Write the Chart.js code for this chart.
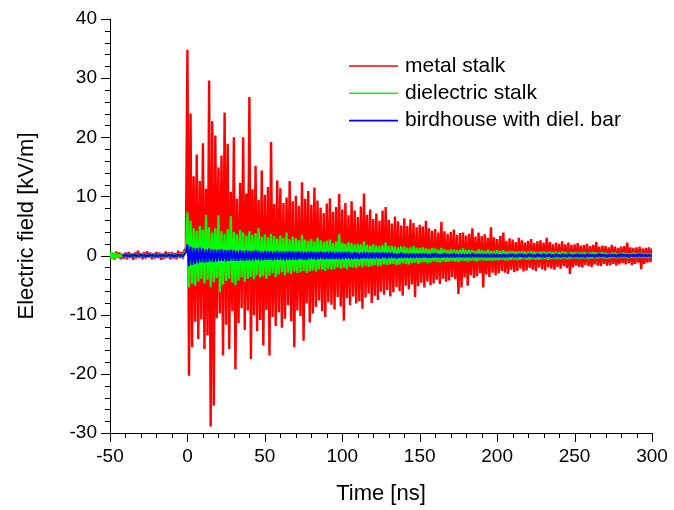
<!DOCTYPE html>
<html>
<head>
<meta charset="utf-8">
<script src="https://cdn.jsdelivr.net/npm/chart.js@4.4.1/dist/chart.umd.min.js"></script>
<style>
  html, body { margin: 0; padding: 0; background: #fff; }
  canvas { display: block; }
</style>
</head>
<body>
<canvas id="field" width="674" height="510"></canvas>
<script>
// Field records, one sample per nanosecond, starting at each series' start time (ns), values in kV/m.
const sampleStep = 1;

const metalStart = -50;
const metalStalk = [
  0.6,-0.5,0.4,-0.7,0.7,-0.4,0.5,-0.6,0.3,-0.5,
  0.5,-0.6,0.6,-0.4,0.4,-0.7,0.5,-0.5,0.8,-0.4,
  0.4,-0.6,0.6,-0.5,0.7,-0.3,0.5,-0.6,0.4,-0.5,
  0.6,-0.4,0.5,-0.7,0.3,-0.5,0.7,-0.4,0.5,-0.6,
  0.6,-0.5,0.4,-0.6,0.8,-0.4,0.6,-0.5,0.9,1.2,
  34.8,-20.3,24.0,-15.5,13.4,-11.2,17.1,-14.1,12.6,-10.8,
  19.0,-15.8,11.3,-13.5,29.6,-28.9,22.7,-25.4,20.3,-10.6,
  14.9,-9.8,16.9,-16.9,24.2,-11.7,18.9,-15.8,10.8,-9.4,
  20.0,-19.2,9.6,-11.4,12.3,-8.9,20.0,-12.6,10.5,-9.3,
  26.8,-17.5,11.2,-10.1,15.2,-12.8,9.4,-10.9,14.4,-15.2,
  10.3,-9.2,11.6,-16.9,19.2,-10.4,8.7,-11.9,12.7,-9.6,
  11.4,-12.2,8.9,-10.7,9.8,-8.4,12.6,-11.1,9.2,-15.5,
  10.1,-9.3,8.4,-10.2,12.4,-14.4,9.6,-8.1,10.9,-11.3,
  8.6,-9.8,11.5,-8.7,9.3,-7.6,8.1,-9.4,7.2,-10.4,
  8.8,-7.9,9.7,-8.3,7.4,-9.1,8.2,-7.0,10.4,-8.6,
  7.8,-11.0,8.9,-7.2,6.8,-8.4,9.2,-6.9,7.6,-8.1,
  6.5,-7.7,8.3,-9.0,10.5,-7.1,6.9,-6.4,7.8,-8.0,
  6.2,-6.8,7.1,-7.5,5.9,-6.1,7.6,-6.6,8.2,-5.8,
  6.0,-6.9,5.4,-6.2,6.6,-5.3,5.8,-6.0,5.1,-6.8,
  6.3,-5.1,5.0,-5.7,6.1,-4.9,5.5,-7.0,4.8,-5.2,
  5.2,-4.6,4.9,-5.4,5.9,-4.4,4.6,-5.0,4.2,-4.7,
  4.5,-4.1,3.9,-4.8,5.7,-3.9,4.1,-4.4,3.7,-4.2,
  4.0,-3.6,4.4,-4.0,3.5,-6.5,3.8,-5.4,3.9,-3.7,
  3.4,-5.1,3.7,-3.3,4.6,-3.8,3.2,-3.5,3.9,-3.0,
  3.3,-5.4,3.6,-3.2,3.0,-3.6,4.8,-2.9,3.1,-3.3,
  2.8,-3.0,3.3,-2.6,3.9,-2.9,2.5,-3.1,2.9,-2.4,
  2.7,-2.8,2.3,-2.6,3.0,-2.2,2.6,-2.7,2.2,-2.5,
  2.5,-2.1,2.8,-2.4,2.1,-2.6,2.4,-2.0,2.6,-2.3,
  2.2,-2.5,3.0,-2.0,2.3,-2.2,1.9,-2.4,2.2,-1.9,
  2.0,-2.2,2.4,-1.8,1.9,-2.1,2.2,-3.1,1.8,-2.0,
  1.9,-1.7,2.1,-1.9,1.7,-2.0,1.8,-1.6,2.0,-1.8,
  1.6,-1.9,1.8,-1.5,2.3,-1.7,1.5,-1.8,1.7,-1.4,
  1.6,-1.7,1.4,-1.6,1.8,-1.4,1.5,-1.7,1.3,-1.5,
  1.5,-1.3,1.6,-1.5,2.2,-1.3,1.4,-1.6,1.3,-1.4,
  1.4,-1.2,1.5,-2.3,1.2,-1.4,1.3,-1.2,1.4,-1.1,1.2
];

const dielectricStart = -50;
const dielectricStalk = [
  0.6,-0.5,0.5,-0.6,0.4,-0.3,0.2,-0.3,0.3,-0.2,
  0.3,-0.3,0.2,-0.3,0.3,-0.2,0.3,-0.3,0.2,-0.3,
  0.3,-0.2,0.3,-0.3,0.2,-0.3,0.3,-0.2,0.3,-0.3,
  0.2,-0.3,0.3,-0.2,0.3,-0.3,0.2,-0.3,0.3,-0.2,
  0.3,-0.3,0.2,-0.3,0.3,-0.2,0.3,-0.3,0.4,0.8,
  7.3,-5.4,5.9,-4.8,4.6,-5.1,4.2,-4.4,5.0,-3.9,
  4.4,-4.7,6.9,-4.1,4.8,-5.3,3.9,-4.5,4.6,-3.8,
  6.8,-6.2,4.1,-4.9,3.7,-4.3,4.5,-3.9,6.7,-4.6,
  4.0,-5.0,3.6,-4.2,4.3,-3.7,3.9,-4.4,3.4,-3.9,
  4.1,-3.6,3.5,-4.0,3.8,-3.3,4.6,-3.7,3.2,-3.5,
  3.6,-3.9,3.1,-3.4,3.7,-3.0,3.3,-3.6,2.9,-3.2,
  3.4,-2.8,3.0,-3.3,3.9,-2.9,2.8,-3.1,3.2,-2.7,
  2.9,-3.0,2.6,-2.8,3.5,-2.6,2.7,-2.9,2.5,-2.7,
  2.8,-2.5,2.4,-2.7,3.0,-2.3,2.6,-2.4,2.3,-2.6,
  2.5,-2.2,2.7,-2.4,2.1,-2.3,2.4,-2.0,3.6,-2.2,
  2.2,-2.1,2.0,-2.3,2.3,-1.9,2.1,-2.0,1.9,-2.1,
  2.0,-1.8,1.9,-2.0,2.4,-1.7,1.8,-1.9,1.7,-1.8,
  1.9,-1.6,1.7,-1.8,1.6,-1.7,1.8,-1.5,2.2,-1.6,
  1.6,-1.5,1.7,-1.4,1.5,-1.6,1.4,-1.5,1.6,-1.3,
  1.5,-1.4,1.3,-1.5,1.4,-1.3,1.6,-1.2,1.3,-1.4,
  1.3,-1.2,1.4,-1.1,1.2,-1.3,1.1,-1.2,1.3,-1.0,
  1.2,-1.1,1.0,-1.2,1.3,-1.0,1.1,-1.1,0.9,-1.0,
  1.1,-0.9,1.0,-1.0,0.9,-1.1,1.0,-0.9,1.2,-0.9,
  0.9,-1.0,1.0,-0.8,0.9,-0.9,0.8,-1.0,1.1,-0.8,
  0.9,-0.8,0.8,-0.9,1.0,-0.8,0.8,-0.9,0.8,-0.8,
  0.9,-0.8,0.8,-0.7,0.9,-0.8,0.7,-0.8,0.8,-0.7,
  0.8,-0.7,0.7,-0.8,0.7,-0.7,0.8,-0.6,0.7,-0.7,
  0.7,-0.7,0.8,-0.6,0.7,-0.7,0.6,-0.7,0.7,-0.6,
  0.7,-0.6,0.6,-0.7,0.7,-0.6,0.6,-0.6,0.7,-0.6,
  0.6,-0.6,0.7,-0.5,0.6,-0.6,0.5,-0.6,0.6,-0.5,
  0.6,-0.5,0.6,-0.6,0.5,-0.5,0.6,-0.5,0.5,-0.6,
  0.5,-0.5,0.6,-0.5,0.5,-0.5,0.5,-0.4,0.6,-0.5,
  0.5,-0.5,0.4,-0.5,0.5,-0.4,0.5,-0.5,0.4,-0.4,
  0.5,-0.4,0.5,-0.4,0.4,-0.5,0.4,-0.4,0.5,-0.4,
  0.4,-0.4,0.5,-0.4,0.4,-0.4,0.4,-0.4,0.4,-0.4,0.4
];

const birdhouseStart = -42;
const birdhouseDielBar = [
  0.15,-0.1,0.2,-0.15,0.1,-0.2,0.15,-0.1,0.2,-0.15,
  0.1,-0.15,0.2,-0.1,0.15,-0.2,0.1,-0.15,0.2,-0.1,
  0.15,-0.15,0.1,-0.2,0.15,-0.1,0.2,-0.15,0.1,-0.15,
  0.2,-0.1,0.15,-0.2,0.1,-0.15,0.2,-0.1,0.15,-0.2,
  0.2,0.5,
  1.9,-1.8,1.5,-1.6,1.3,-1.4,1.2,-1.3,1.4,-1.1,
  1.2,-1.2,1.1,-1.1,1.2,-1.0,1.0,-1.1,1.0,-1.0,
  1.0,-0.9,1.1,-0.9,0.9,-1.0,0.9,-0.9,1.0,-0.8,
  0.9,-0.9,0.8,-0.9,0.9,-0.8,0.8,-0.9,0.9,-0.8,
  0.8,-0.8,0.8,-0.8,0.9,-0.7,0.8,-0.8,0.7,-0.8,
  0.8,-0.7,0.8,-0.7,0.7,-0.8,0.7,-0.7,0.8,-0.7,
  0.7,-0.7,0.7,-0.8,0.7,-0.7,0.8,-0.7,0.7,-0.7,
  0.7,-0.7,0.7,-0.6,0.7,-0.7,0.6,-0.7,0.7,-0.6,
  0.7,-0.6,0.6,-0.7,0.6,-0.6,0.7,-0.6,0.6,-0.6,
  0.6,-0.6,0.7,-0.6,0.6,-0.6,0.6,-0.6,0.6,-0.6,
  0.6,-0.6,0.6,-0.5,0.6,-0.6,0.5,-0.6,0.6,-0.5,
  0.5,-0.6,0.5,-0.5,0.6,-0.5,0.5,-0.5,0.5,-0.5,
  0.5,-0.5,0.5,-0.5,0.5,-0.5,0.5,-0.4,0.5,-0.5,
  0.5,-0.4,0.5,-0.4,0.4,-0.5,0.4,-0.4,0.5,-0.4,
  0.4,-0.4,0.4,-0.4,0.4,-0.4,0.4,-0.4,0.4,-0.4,
  0.4,-0.4,0.4,-0.3,0.4,-0.4,0.3,-0.4,0.4,-0.3,
  0.4,-0.3,0.3,-0.4,0.3,-0.3,0.4,-0.3,0.3,-0.3,
  0.3,-0.3,0.4,-0.3,0.3,-0.3,0.3,-0.3,0.3,-0.3,
  0.3,-0.3,0.3,-0.3,0.4,-0.3,0.3,-0.3,0.3,-0.3,
  0.3,-0.3,0.3,-0.3,0.3,-0.3,0.3,-0.3,0.3,-0.3,
  0.3,-0.3,0.2,-0.3,0.3,-0.3,0.2,-0.3,0.3,-0.2,
  0.3,-0.3,0.2,-0.3,0.3,-0.2,0.3,-0.3,0.2,-0.3,
  0.3,-0.2,0.3,-0.3,0.2,-0.3,0.3,-0.2,0.2,-0.3,
  0.3,-0.3,0.2,-0.2,0.3,-0.3,0.2,-0.3,0.3,-0.2,
  0.2,-0.3,0.3,-0.2,0.2,-0.3,0.3,-0.2,0.2,-0.3,
  0.2,-0.2,0.3,-0.3,0.2,-0.2,0.2,-0.3,0.3,-0.2,
  0.2,-0.2,0.2,-0.3,0.2,-0.2,0.3,-0.2,0.2,-0.2,
  0.2,-0.3,0.2,-0.2,0.2,-0.2,0.2,-0.3,0.2,-0.2,
  0.3,-0.2,0.2,-0.2,0.2,-0.3,0.2,-0.2,0.2,-0.2,
  0.2,-0.2,0.3,-0.2,0.2,-0.2,0.2,-0.2,0.2,-0.2,0.2
];

const seriesNames = ['metal stalk', 'dielectric stalk', 'birdhouse with diel. bar'];
const seriesColors = ['#ff0000', '#00ff00', '#0000ff'];
const xTickLabels = [-50, 0, 50, 100, 150, 200, 250, 300];
const yTickLabels = [-30, -20, -10, 0, 10, 20, 30, 40];

const FONT = '"Liberation Sans", Arial, Helvetica, sans-serif';

function toPoints(start, values) {
  return values.map((v, i) => ({ x: start + i * sampleStep, y: v }));
}

// Minor and major tick marks on the outside of both axes
const axisTicks = {
  id: 'axisTicks',
  afterDraw(chart) {
    const { ctx } = chart;
    const xs = chart.scales.x, ys = chart.scales.y;
    ctx.save();
    ctx.strokeStyle = '#000';
    ctx.lineWidth = 1;
    ctx.beginPath();
    xs.ticks.forEach(t => {
      const px = Math.round(xs.getPixelForValue(t.value)) + 0.5;
      const len = xTickLabels.includes(t.value) ? 9 : 5;
      ctx.moveTo(px, xs.top);
      ctx.lineTo(px, xs.top + len);
    });
    ys.ticks.forEach(t => {
      const py = Math.round(ys.getPixelForValue(t.value)) + 0.5;
      const len = yTickLabels.includes(t.value) ? 9 : 5;
      ctx.moveTo(ys.right, py);
      ctx.lineTo(ys.right - len, py);
    });
    ctx.stroke();
    ctx.restore();
  }
};

// Line-sample legend in the upper right of the plot
const seriesLegend = {
  id: 'seriesLegend',
  afterDraw(chart) {
    const { ctx } = chart;
    ctx.save();
    ctx.font = '21px ' + FONT;
    ctx.textBaseline = 'middle';
    ctx.textAlign = 'left';
    seriesNames.forEach((name, i) => {
      const y = 66 + i * 27.3;
      ctx.strokeStyle = seriesColors[i];
      ctx.lineWidth = 1.6;
      ctx.beginPath();
      ctx.moveTo(349, y);
      ctx.lineTo(398, y);
      ctx.stroke();
      ctx.fillStyle = '#000';
      ctx.fillText(name, 405, y);
    });
    ctx.restore();
  }
};

const starts = [metalStart, dielectricStart, birdhouseStart];
const records = [metalStalk, dielectricStalk, birdhouseDielBar];
const widths = [2.4, 2.2, 2.0];
const orders = [3, 2, 1];

new Chart(document.getElementById('field'), {
  type: 'line',
  data: {
    datasets: seriesNames.map((name, i) => ({
      label: name,
      data: toPoints(starts[i], records[i]),
      borderColor: seriesColors[i],
      backgroundColor: seriesColors[i],
      borderWidth: widths[i],
      borderJoinStyle: 'bevel',
      pointRadius: 0,
      tension: 0,
      fill: false,
      order: orders[i]
    }))
  },
  options: {
    responsive: false,
    animation: false,
    devicePixelRatio: 1,
    layout: { padding: { top: 19, right: 22, left: 0, bottom: 0 } },
    plugins: { legend: { display: false }, tooltip: { enabled: false } },
    scales: {
      x: {
        type: 'linear',
        min: -50, max: 300,
        afterFit(scale) { scale.height = 77; },
        grid: { display: false, drawTicks: true, tickLength: 9 },
        border: { display: true, color: '#000', width: 1 },
        ticks: {
          stepSize: 10, autoSkip: false, maxRotation: 0, padding: 3,
          color: '#000', font: { family: FONT, size: 19 },
          callback: v => xTickLabels.includes(v) ? String(v) : ''
        },
        title: {
          display: true, text: 'Time [ns]', color: '#000',
          font: { family: FONT, size: 22 }, padding: { top: 0, bottom: 3 }
        }
      },
      y: {
        type: 'linear',
        min: -30, max: 40,
        afterFit(scale) { scale.width = 110; },
        grid: { display: false, drawTicks: true, tickLength: 9 },
        border: { display: true, color: '#000', width: 1 },
        ticks: {
          stepSize: 2, autoSkip: false, padding: 4,
          color: '#000', font: { family: FONT, size: 19 },
          callback: v => yTickLabels.includes(v) ? String(v) : ''
        },
        title: {
          display: true, text: 'Electric field [kV/m]', color: '#000',
          font: { family: FONT, size: 22 }, padding: { top: 14, bottom: 0 }
        }
      }
    }
  },
  plugins: [axisTicks, seriesLegend]
});
</script>
</body>
</html>
